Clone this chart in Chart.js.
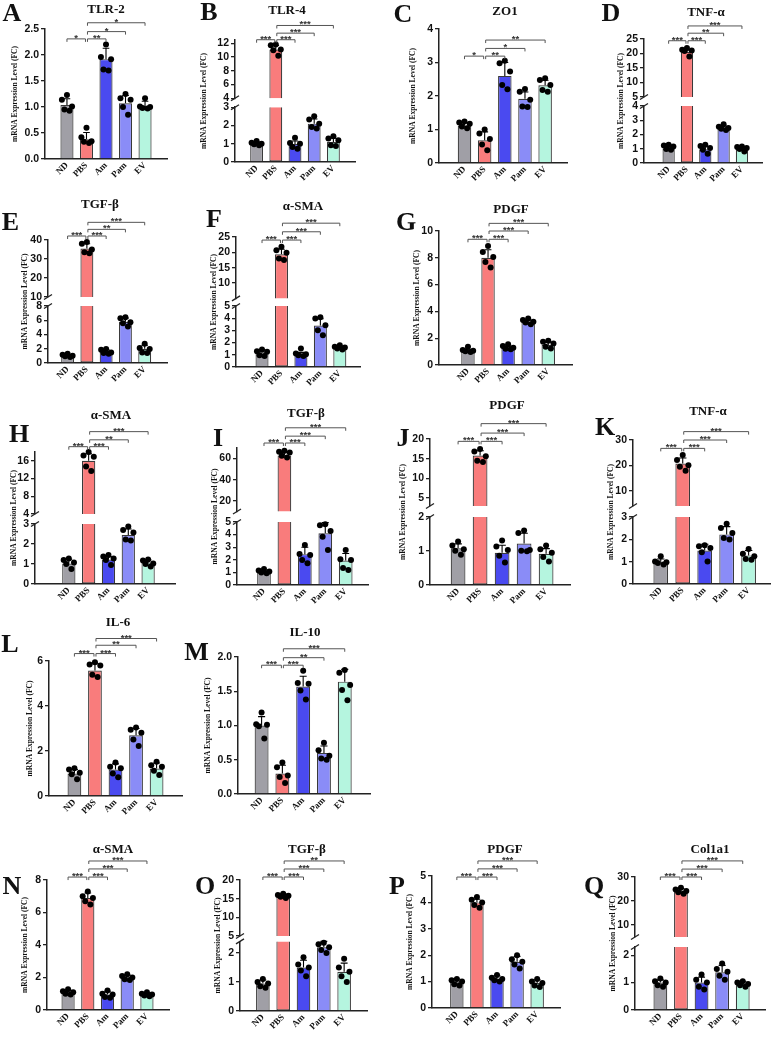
<!DOCTYPE html>
<html lang="en">
<head>
<meta charset="UTF-8">
<title>mRNA expression panels</title>
<script src="https://cdn.jsdelivr.net/npm/chart.js@4.4.0/dist/chart.umd.min.js"></script>
<style>
  body { margin: 0; width: 783px; height: 1049px; position: relative; overflow: hidden; background: #fff; }
  .pn { position: absolute; }
  .lt, .tt { position: absolute; line-height: 1; white-space: nowrap; transform: translate(-50%, -50%);
             font-family: "Liberation Serif", serif; font-weight: bold; color: #111; }
  .lt { font-size: 26px; }
  .tt { font-size: 13px; }
</style>
</head>
<body>
<script>
const groups = ['ND', 'PBS', 'Am', 'Pam', 'EV'];
const colors = ['#a09fa6', '#f97c7c', '#4a4af0', '#8a8cf7', '#b5f5df'];
// stars: ND-PBS, PBS-Am, PBS-Pam, PBS-EV

// A  TLR-2
const aMean = [1.04, 0.38, 1.92, 1.07, 1.02];
const aSd = [0.12, 0.13, 0.21, 0.15, 0.09];
const aDots = [[1.23, 1.14, 1.01, 0.95, 0.93], [0.6, 0.42, 0.34, 0.33, 0.31], [2.2, 1.96, 1.92, 1.72, 1.7], [1.25, 1.17, 1.14, 1.0, 0.85], [1.17, 1.01, 1.0, 0.98, 0.97]];
const aTicks = [0, 0.5, 1, 1.5, 2, 2.5];
const aStars = ['*', '**', '*', '*'];
// B  TLR-4
const bMean = [1.0, 11.1, 0.98, 2.1, 1.1];
const bSd = [0.1, 0.6, 0.17, 0.25, 0.2];
const bDots = [[1.15, 1.05, 1.0, 0.97, 0.92], [11.85, 11.75, 11.1, 11.0, 10.2], [1.33, 1.04, 1.0, 0.82, 0.73], [2.51, 2.32, 2.1, 1.92, 1.83], [1.41, 1.28, 1.19, 0.91, 0.88]];
const bTicksLo = [0, 1, 2, 3];
const bTicksHi = [4, 6, 8, 10, 12];
const bStars = ['***', '***', '***', '***'];
// C  ZO1
const cMean = [1.12, 0.68, 2.6, 1.92, 2.32];
const cSd = [0.08, 0.25, 0.4, 0.2, 0.15];
const cDots = [[1.24, 1.21, 1.17, 1.09, 1.04], [1.0, 0.88, 0.72, 0.55, 0.38], [3.05, 2.98, 2.73, 2.33, 2.2], [2.21, 2.13, 1.89, 1.69, 1.67], [2.53, 2.48, 2.33, 2.18, 2.13]];
const cTicks = [0, 1, 2, 3, 4];
const cStars = ['*', '**', '*', '**'];
// D  TNF-a
const dMean = [1.0, 20.6, 0.97, 2.45, 1.0];
const dSd = [0.15, 0.6, 0.2, 0.15, 0.08];
const dDots = [[1.28, 1.23, 1.16, 0.98, 0.93], [21.9, 21.3, 21.0, 20.9, 19.0], [1.28, 1.2, 1.05, 0.93, 0.65], [2.72, 2.55, 2.45, 2.4, 2.32], [1.16, 1.12, 1.05, 0.98, 0.81]];
const dTicksLo = [0, 1, 2, 3, 4];
const dTicksHi = [5, 10, 15, 20, 25];
const dStars = ['***', '***', '**', '***'];
// E  TGF-b
const eMean = [1.0, 35.5, 1.55, 5.8, 2.0];
const eSd = [0.15, 2.5, 0.35, 0.5, 0.5];
const eDots = [[1.3, 1.16, 1.02, 0.93, 0.84], [38.9, 38.0, 35.0, 33.6, 33.0], [1.95, 1.86, 1.49, 1.4, 1.3], [6.42, 6.28, 5.72, 5.58, 5.12], [2.7, 2.09, 1.95, 1.49, 1.4]];
const eTicksLo = [0, 2, 4, 6, 8];
const eTicksHi = [10, 20, 30, 40];
const eStars = ['***', '***', '**', '***'];
// F  a-SMA
const fMean = [1.2, 19.4, 1.0, 3.4, 1.6];
const fSd = [0.2, 1.6, 0.2, 0.55, 0.12];
const fDots = [[1.43, 1.29, 1.24, 0.96, 0.91], [21.8, 20.7, 19.9, 18.0, 17.5], [1.51, 1.1, 1.04, 0.96, 0.91], [4.07, 3.98, 3.43, 3.02, 2.61], [1.79, 1.65, 1.59, 1.51, 1.43]];
const fTicksLo = [0, 1, 2, 3, 4, 5];
const fTicksHi = [10, 15, 20, 25];
const fStars = ['***', '***', '***', '***'];
// G  PDGF
const gMean = [1.05, 8.0, 1.28, 3.2, 1.5];
const gSd = [0.13, 0.6, 0.13, 0.15, 0.2];
const gDots = [[1.36, 1.12, 1.07, 1.02, 0.97], [8.88, 8.44, 8.06, 7.69, 7.27], [1.54, 1.41, 1.29, 1.22, 1.17], [3.47, 3.35, 3.23, 3.18, 3.05], [1.81, 1.74, 1.61, 1.36, 1.24]];
const gTicks = [0, 2, 4, 6, 8, 10];
const gStars = ['***', '***', '***', '***'];
// H  a-SMA
const hMean = [1.02, 16.0, 1.22, 2.45, 1.08];
const hSd = [0.22, 1.6, 0.15, 0.3, 0.12];
const hDots = [[1.28, 1.2, 1.07, 1.0, 0.75], [18.0, 17.2, 16.9, 14.7, 13.7], [1.45, 1.37, 1.28, 1.2, 0.95], [2.87, 2.7, 2.57, 2.23, 2.17], [1.23, 1.17, 1.03, 1.0, 0.87]];
const hTicksLo = [0, 1, 2, 3];
const hTicksHi = [4, 8, 12, 16];
const hStars = ['***', '***', '**', '***'];
// I  TGF-b
const iMean = [1.0, 63, 2.45, 4.1, 1.95];
const iSd = [0.08, 2.5, 0.55, 0.85, 0.55];
const iDots = [[1.26, 1.15, 1.07, 0.99, 0.94], [67.4, 66.4, 65.8, 62.6, 61.0], [3.17, 2.46, 2.38, 1.99, 1.73], [4.82, 4.74, 4.29, 3.82, 2.77], [2.77, 2.04, 1.99, 1.34, 1.2]];
const iTicksLo = [0, 1, 2, 3, 4, 5];
const iTicksHi = [20, 40, 60];
const iStars = ['***', '***', '***', '***'];
// J  PDGF
const jMean = [1.08, 15.8, 0.95, 1.22, 0.92];
const jSd = [0.13, 1.2, 0.22, 0.3, 0.15];
const jDots = [[1.28, 1.16, 1.05, 1.01, 0.89], [17.46, 16.86, 15.6, 14.5, 14.15], [1.31, 1.13, 1.03, 0.86, 0.66], [1.6, 1.53, 1.03, 1.01, 0.99], [1.16, 1.05, 0.95, 0.82, 0.69]];
const jTicksLo = [0, 1, 2];
const jTicksHi = [5, 10, 15, 20];
const jStars = ['***', '***', '***', '***'];
// K  TNF-a
const kMean = [1.0, 20.7, 1.5, 2.22, 1.28];
const kSd = [0.12, 2.2, 0.28, 0.35, 0.22];
const kDots = [[1.24, 1.01, 0.97, 0.94, 0.87], [24.1, 22.1, 20.1, 19.5, 17.9], [1.73, 1.69, 1.61, 1.42, 1.01], [2.7, 2.51, 2.28, 2.06, 1.99], [1.57, 1.36, 1.24, 1.12, 1.09]];
const kTicksLo = [0, 1, 2, 3];
const kTicksHi = [10, 20, 30];
const kStars = ['***', '***', '***', '***'];
// L  IL-6
const lMean = [1.0, 5.58, 1.18, 2.7, 1.22];
const lSd = [0.18, 0.3, 0.25, 0.3, 0.25];
const lDots = [[1.23, 1.18, 1.03, 0.97, 0.74], [5.95, 5.85, 5.8, 5.39, 5.29], [1.49, 1.3, 1.23, 1.0, 0.83], [3.04, 2.95, 2.81, 2.51, 2.22], [1.52, 1.37, 1.3, 1.12, 0.93]];
const lTicks = [0, 2, 4, 6];
const lStars = ['***', '***', '**', '***'];
// M  IL-10
const mMean = [1.0, 0.3, 1.57, 0.6, 1.64];
const mSd = [0.13, 0.12, 0.15, 0.1, 0.18];
const mDots = [[1.19, 1.02, 1.01, 0.99, 0.81], [0.46, 0.39, 0.27, 0.25, 0.16], [1.8, 1.62, 1.61, 1.51, 1.38], [0.75, 0.64, 0.56, 0.52, 0.5], [1.81, 1.77, 1.59, 1.52, 1.37]];
const mTicks = [0, 0.5, 1, 1.5, 2];
const mStars = ['***', '***', '**', '***'];
// N  a-SMA
const nMean = [1.1, 6.9, 0.95, 2.0, 0.95];
const nSd = [0.12, 0.3, 0.2, 0.15, 0.1];
const nDots = [[1.28, 1.15, 1.1, 1.0, 0.95], [7.3, 7.0, 6.9, 6.7, 6.5], [1.2, 1.0, 0.95, 0.8, 0.75], [2.2, 2.1, 2.0, 1.9, 1.85], [1.1, 1.0, 0.95, 0.9, 0.85]];
const nTicks = [0, 2, 4, 6, 8];
const nStars = ['***', '***', '***', '***'];
// O  TGF-b
const oMean = [0.95, 15.7, 1.5, 2.2, 1.35];
const oSd = [0.12, 0.6, 0.25, 0.2, 0.3];
const oDots = [[1.1, 1.0, 0.95, 0.85, 0.8], [16.3, 16.0, 15.8, 15.5, 15.2], [1.85, 1.6, 1.5, 1.4, 1.2], [2.35, 2.3, 2.2, 2.1, 2.0], [1.8, 1.5, 1.35, 1.2, 1.0]];
const oTicksLo = [0, 1, 2];
const oTicksHi = [5, 10, 15, 20];
const oStars = ['***', '***', '***', '**'];
// P  PDGF
const pMean = [1.0, 4.0, 1.1, 1.75, 0.95];
const pSd = [0.1, 0.12, 0.12, 0.2, 0.12];
const pDots = [[1.1, 1.05, 1.0, 0.9, 0.85], [4.2, 4.1, 4.0, 3.9, 3.8], [1.25, 1.15, 1.1, 1.05, 1.0], [2.0, 1.85, 1.75, 1.65, 1.5], [1.1, 1.0, 0.95, 0.85, 0.8]];
const pTicks = [0, 1, 2, 3, 4, 5];
const pStars = ['***', '***', '***', '***'];
// Q  Col1a1
const qMean = [1.0, 24.2, 1.0, 1.38, 0.95];
const qSd = [0.1, 1.0, 0.2, 0.25, 0.1];
const qDots = [[1.15, 1.05, 1.0, 0.9, 0.85], [25.5, 24.8, 24.2, 23.6, 23.0], [1.3, 1.1, 1.0, 0.85, 0.75], [1.7, 1.5, 1.4, 1.25, 1.1], [1.05, 1.0, 0.95, 0.9, 0.85]];
const qTicksLo = [0, 1, 2];
const qTicksHi = [10, 20, 30];
const qStars = ['***', '***', '***', '***'];

// layout: plot box in page px, x range, y ranges, bracket heights (axis units), y-title offset, letter/title centres
const panels = [
  {id: 'A', title: 'TLR-2', mean: aMean, sd: aSd, dots: aDots, ticks: aTicks, stars: aStars, dec: 1,
   L: 45, T: 29, B: 159, R: 167, x: [-0.5, 4.5], y: [0, 2.5], sigAt: [2.31, 2.45, 2.62], yt: 30, let: [12, 12.5], tit: [106, 8]},
  {id: 'B', title: 'TLR-4', mean: bMean, sd: bSd, dots: bDots, ticksLo: bTicksLo, ticksHi: bTicksHi, stars: bStars,
   L: 235, T: 39.6, B: 162, R: 355, x: [-0.5, 4.5], lo: [0, 3], hi: [4, 12.5], cut: [98, 107], sigAt: [12.54, 13.5, 14.62], yt: 31, let: [209, 11.5], tit: [287, 8.5]},
  {id: 'C', title: 'ZO1', mean: cMean, sd: cSd, dots: cDots, ticks: cTicks, stars: cStars,
   L: 439, T: 29, B: 163, R: 567, x: [-0.63, 4.45], y: [0, 4], sigAt: [3.19, 3.42, 3.67], yt: 26, let: [403, 13.5], tit: [505, 9.5]},
  {id: 'D', title: 'TNF-α', mean: dMean, sd: dSd, dots: dDots, ticksLo: dTicksLo, ticksHi: dTicksHi, stars: dStars,
   L: 644, T: 39, B: 163, R: 762, x: [-0.7, 4.45], lo: [0, 4], hi: [5, 25], cut: [97, 106], sigAt: [24.4, 27.0, 29.5], yt: 23, let: [611, 12.5], tit: [706, 10.5]},
  {id: 'E', title: 'TGF-β', mean: eMean, sd: eSd, dots: eDots, ticksLo: eTicksLo, ticksHi: eTicksHi, stars: eStars,
   L: 48, T: 240, B: 363, R: 167, x: [-0.4, 4.54], lo: [0, 8], hi: [10, 40], cut: [297, 306], sigAt: [42.1, 45.6, 49.3], yt: 23, let: [10.5, 221.5], tit: [100, 203]},
  {id: 'F', title: 'α-SMA', mean: fMean, sd: fSd, dots: fDots, ticksLo: fTicksLo, ticksHi: fTicksHi, stars: fStars,
   L: 236, T: 237, B: 367, R: 360, x: [-0.7, 4.4], lo: [0, 5], hi: [5, 25], cut: [298.4, 306], sigAt: [24.0, 26.7, 29.5], yt: 22, let: [214, 219], tit: [303, 205]},
  {id: 'G', title: 'PDGF', mean: gMean, sd: gSd, dots: gDots, ticks: gTicks, stars: gStars,
   L: 439, T: 231, B: 365, R: 572, x: [-0.78, 4.52], y: [0, 10], sigAt: [9.38, 10.0, 10.57], yt: 21.5, let: [406, 221.5], tit: [511, 207.5]},
  {id: 'H', title: 'α-SMA', mean: hMean, sd: hSd, dots: hDots, ticksLo: hTicksLo, ticksHi: hTicksHi, stars: hStars,
   L: 35, T: 452, B: 584, R: 175, x: [-1.0, 4.65], lo: [0, 3], hi: [4, 18], cut: [514, 524], sigAt: [19.2, 20.75, 22.6], yt: 21, let: [19, 434], tit: [111, 414]},
  {id: 'I', title: 'TGF-β', mean: iMean, sd: iSd, dots: iDots, ticksLo: iTicksLo, ticksHi: iTicksHi, stars: iStars,
   L: 237, T: 448, B: 585, R: 368, x: [-0.68, 4.45], lo: [0, 5], hi: [10, 70], cut: [511.5, 522], sigAt: [74.7, 81.2, 89.1], yt: 22, let: [218, 437.5], tit: [306, 412]},
  {id: 'J', title: 'PDGF', mean: jMean, sd: jSd, dots: jDots, ticksLo: jTicksLo, ticksHi: jTicksHi, stars: jStars,
   L: 430, T: 439, B: 585, R: 570, x: [-0.64, 4.45], lo: [0, 2], hi: [3, 20], cut: [506, 517], sigAt: [19.4, 21.5, 23.9], yt: 27, let: [403, 437.5], tit: [507, 404]},
  {id: 'K', title: 'TNF-α', mean: kMean, sd: kSd, dots: kDots, ticksLo: kTicksLo, ticksHi: kTicksHi, stars: kStars,
   L: 633, T: 440, B: 584, R: 770, x: [-0.64, 4.35], lo: [0, 3], hi: [4, 30], cut: [506, 517], sigAt: [26.7, 30.0, 33.3], yt: 22, let: [605, 426.5], tit: [708, 410]},
  {id: 'L', title: 'IL-6', mean: lMean, sd: lSd, dots: lDots, ticks: lTicks, stars: lStars,
   L: 49, T: 661, B: 796, R: 182, x: [-0.59, 4.59], y: [0, 6], sigAt: [6.33, 6.7, 7.0], yt: 19, let: [10, 644], tit: [118, 621]},
  {id: 'M', title: 'IL-10', mean: mMean, sd: mSd, dots: mDots, ticks: mTicks, stars: mStars, dec: 1,
   L: 238, T: 657, B: 794, R: 370, x: [-0.5, 4.58], y: [0, 2], sigAt: [1.88, 1.99, 2.12], yt: 30, let: [196.5, 651.5], tit: [305, 631]},
  {id: 'N', title: 'α-SMA', mean: nMean, sd: nSd, dots: nDots, ticks: nTicks, stars: nStars,
   L: 47, T: 880, B: 1010, R: 169, x: [-0.45, 4.5], y: [0, 8], sigAt: [8.18, 8.68, 9.17], yt: 22, let: [12, 886], tit: [113, 848]},
  {id: 'O', title: 'TGF-β', mean: oMean, sd: oSd, dots: oDots, ticksLo: oTicksLo, ticksHi: oTicksHi, stars: oStars,
   L: 240, T: 880, B: 1011, R: 367, x: [-0.5, 4.5], lo: [0, 2.4], hi: [5, 20], cut: [936, 941.4], sigAt: [20.8, 22.95, 25.1], yt: 22, let: [205, 886], tit: [307, 848]},
  {id: 'P', title: 'PDGF', mean: pMean, sd: pSd, dots: pDots, ticks: pTicks, stars: pStars,
   L: 432, T: 876, B: 1008, R: 560, x: [-0.6, 4.5], y: [0, 5], sigAt: [4.96, 5.27, 5.57], yt: 22, let: [397, 886], tit: [505, 848]},
  {id: 'Q', title: 'Col1a1', mean: qMean, sd: qSd, dots: qDots, ticksLo: qTicksLo, ticksHi: qTicksHi, stars: qStars,
   L: 635, T: 877, B: 1010, R: 765, x: [-0.6, 4.45], lo: [0, 2.3], hi: [5, 30], cut: [937, 947], sigAt: [30.0, 33.3, 36.7], yt: 22, let: [594, 886], tit: [710, 848]}
];

const spread = [0, -0.26, 0.26, -0.13, 0.13];
const pairs = [[0, 1, 0], [1, 2, 0], [1, 3, 1], [1, 4, 2]];
const yW = 46, xH = 36, padT = 46, padR = 8;
const ink = '#222';

function yAxis(ticks, range, dec, weight, stackW) {
  return {
    type: 'linear', position: 'left', min: range[0], max: range[1], weight: weight,
    stack: 'v', stackWeight: stackW,
    afterBuildTicks: s => { s.ticks = ticks.map(v => ({value: v})); },
    afterFit: s => { s.width = yW; },
    ticks: {callback: v => v.toFixed(dec), autoSkip: false, font: {family: 'Liberation Sans', size: 10.5, weight: 'bold'}, color: '#111', padding: 2},
    grid: {drawOnChartArea: false, tickLength: 4, color: ink, lineWidth: 1.3},
    border: {color: ink, width: 1.5}
  };
}

function addText(cls, text, pos) {
  const d = document.createElement('div');
  d.className = cls;
  d.textContent = text;
  d.style.left = pos[0] + 'px';
  d.style.top = pos[1] + 'px';
  document.body.appendChild(d);
}

function drawPanel(p) {
  const broken = !!p.hi;
  const dec = p.dec || 0;
  const cutAt = broken ? p.lo[1] : Infinity;
  const left = Math.round(p.L - yW), top = Math.round(p.T - padT);
  const W = Math.round(p.R + padR) - left, H = Math.round(p.B + xH) - top;
  const box = document.createElement('div');
  box.className = 'pn';
  box.style.left = left + 'px';
  box.style.top = top + 'px';
  const cv = document.createElement('canvas');
  cv.width = W; cv.height = H;
  box.appendChild(cv);
  document.body.appendChild(box);

  const scales = {
    x: {
      type: 'linear', min: p.x[0], max: p.x[1],
      afterBuildTicks: s => { s.ticks = groups.map((g, i) => ({value: i})); },
      afterFit: s => { s.height = xH; },
      ticks: {display: false},
      grid: {display: false, drawTicks: false},
      border: {color: ink, width: 1.5}
    }
  };
  const plotH = p.B - p.T;
  if (broken) {
    scales.yHi = yAxis(p.ticksHi, p.hi, dec, 3, (p.cut[0] - p.T) / plotH);
    scales.yGap = {type: 'linear', position: 'left', min: 0, max: 1, weight: 2, stack: 'v',
      stackWeight: (p.cut[1] - p.cut[0]) / plotH, afterFit: s => { s.width = yW; },
      ticks: {display: false}, grid: {display: false}, border: {display: false}};
    scales.y = yAxis(p.ticksLo, p.lo, dec, 1, (p.B - p.cut[1]) / plotH);
  } else {
    scales.y = yAxis(p.ticks, p.y, dec, 1, 1);
  }

  const fill = c => colors[c.raw.x];
  const datasets = [{
    type: 'bar', yAxisID: 'y', order: 2, clip: false,
    data: p.mean.map((m, i) => ({x: i, y: Math.min(m, cutAt)})),
    backgroundColor: fill, borderColor: '#3a3a3a', borderWidth: 1.2,
    borderSkipped: c => (p.mean[c.dataIndex] > cutAt ? 'top' : 'start'),
    grouped: false, barPercentage: 1, categoryPercentage: 0.67
  }];
  if (broken) {
    datasets.push({
      type: 'bar', yAxisID: 'yHi', order: 2, clip: false,
      data: p.mean.map((m, i) => ({x: i, y: [p.hi[0], m]})).filter(d => d.y[1] > cutAt),
      backgroundColor: fill, borderColor: '#3a3a3a', borderWidth: 1.2, borderSkipped: 'bottom',
      grouped: false, barPercentage: 1, categoryPercentage: 0.67
    });
  }
  const dotsLo = [], dotsHi = [];
  p.dots.forEach((arr, i) => arr.forEach((v, k) => (v > cutAt ? dotsHi : dotsLo).push({x: i + spread[k], y: v})));
  const dotStyle = {type: 'scatter', order: 0, clip: false, pointRadius: 3, pointBackgroundColor: '#000', pointBorderWidth: 0};
  datasets.push(Object.assign({yAxisID: 'y', data: dotsLo}, dotStyle));
  if (broken) datasets.push(Object.assign({yAxisID: 'yHi', data: dotsHi}, dotStyle));

  const extras = {
    id: 'extras' + p.id,
    afterDatasetsDraw(chart) {
      const ctx = chart.ctx, xs = chart.scales.x;
      ctx.save();
      ctx.strokeStyle = '#000';
      ctx.lineWidth = 1.1;
      p.mean.forEach((m, i) => {
        const ys = chart.scales[m > cutAt ? 'yHi' : 'y'];
        const x = xs.getPixelForValue(i);
        const y0 = ys.getPixelForValue(m), y1 = ys.getPixelForValue(m + p.sd[i]);
        const cw = xs.getPixelForValue(i + 0.17) - x;
        ctx.beginPath();
        ctx.moveTo(x, y0); ctx.lineTo(x, y1);
        ctx.moveTo(x - cw, y1); ctx.lineTo(x + cw, y1);
        ctx.stroke();
      });
      ctx.restore();
    },
    afterDraw(chart) {
      const ctx = chart.ctx, xs = chart.scales.x, area = chart.chartArea;
      const ys = chart.scales[broken ? 'yHi' : 'y'];
      ctx.save();
      // group names under the bars, turned 45 degrees
      ctx.fillStyle = '#111';
      ctx.font = 'bold 9px "Liberation Serif"';
      ctx.textAlign = 'right';
      ctx.textBaseline = 'middle';
      groups.forEach((g, i) => {
        ctx.save();
        ctx.translate(xs.getPixelForValue(i), area.bottom + 5);
        ctx.rotate(-Math.PI / 4);
        ctx.fillText(g, 0, 0);
        ctx.restore();
      });
      // significance brackets
      ctx.strokeStyle = '#555';
      ctx.fillStyle = '#333';
      ctx.lineWidth = 1;
      ctx.font = 'bold 9.5px "Liberation Sans"';
      ctx.textAlign = 'center';
      ctx.textBaseline = 'alphabetic';
      pairs.forEach(([a, b, lv], n) => {
        const y = ys.getPixelForValue(p.sigAt[lv]);
        const xa = xs.getPixelForValue(a) + (a === 1 ? 1 : 0), xb = xs.getPixelForValue(b) - (b === 1 ? 1 : 0);
        ctx.beginPath();
        ctx.moveTo(xa, y + 3); ctx.lineTo(xa, y); ctx.lineTo(xb, y); ctx.lineTo(xb, y + 3);
        ctx.stroke();
        ctx.fillText(p.stars[n], (xa + xb) / 2, y + 2);
      });
      // axis break marks
      if (broken) {
        ctx.strokeStyle = ink;
        ctx.lineWidth = 1.3;
        [chart.scales.yHi.bottom, chart.scales.y.top].forEach(y => {
          ctx.beginPath();
          ctx.moveTo(area.left - 4, y + 2.5); ctx.lineTo(area.left + 4, y - 2.5);
          ctx.stroke();
        });
      }
      // y title
      ctx.translate(area.left - p.yt, (area.top + area.bottom) / 2);
      ctx.rotate(-Math.PI / 2);
      ctx.fillStyle = '#111';
      ctx.font = 'bold 7.5px "Liberation Serif"';
      ctx.textBaseline = 'middle';
      ctx.fillText('mRNA Expression Level (FC)', 0, 0);
      ctx.restore();
    }
  };

  new Chart(cv, {
    type: 'bar',
    data: {datasets},
    options: {
      responsive: false, animation: false, devicePixelRatio: 1, events: [],
      layout: {padding: {top: padT, right: padR, left: 0, bottom: 0}},
      plugins: {legend: {display: false}, tooltip: {enabled: false}},
      scales
    },
    plugins: [extras]
  });

  addText('lt', p.id, p.let);
  addText('tt', p.title, p.tit);
}

panels.forEach(drawPanel);
</script>
</body>
</html>
